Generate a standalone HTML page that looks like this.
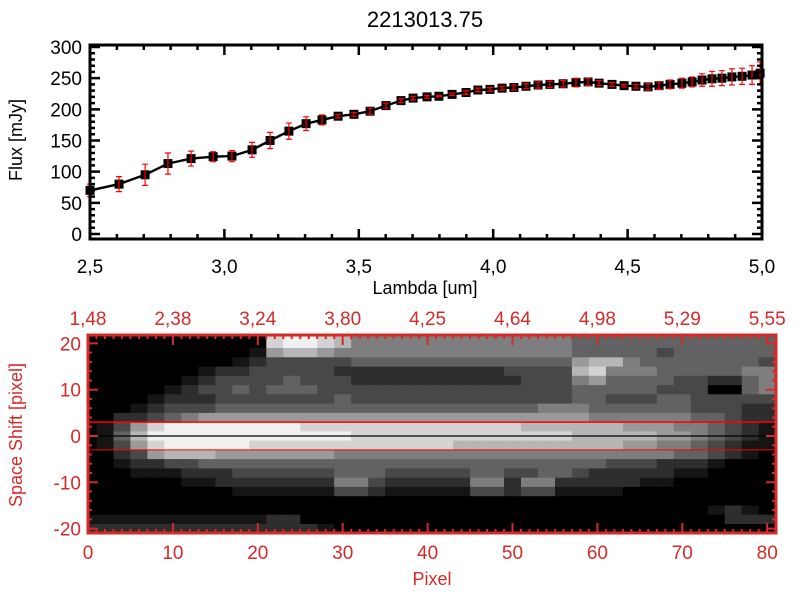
<!DOCTYPE html>
<html><head><meta charset="utf-8"><style>
body{margin:0;background:#fff}
svg{display:block}
text{font-family:"Liberation Sans",sans-serif}
</style></head><body>
<svg id="s" width="800" height="600" viewBox="0 0 800 600">
<g id="heat"></g>
<g id="topPlot"></g>
<g id="bot"></g>
</svg>
<script>
const lambdas=[2.500,2.608,2.705,2.790,2.876,2.958,3.028,3.103,3.170,3.240,3.304,3.363,3.423,3.482,3.542,3.601,3.657,3.702,3.754,3.798,3.847,3.899,3.943,3.988,4.033,4.077,4.122,4.167,4.211,4.260,4.308,4.353,4.394,4.442,4.487,4.531,4.576,4.617,4.658,4.702,4.740,4.777,4.814,4.851,4.888,4.926,4.963,4.993];
const fluxes=[70,80,95,113,121,124,125,135,150,165,177,183,189,192,197,206,214,218,220,221,224,227,231,232,234,235,237,239,240,241,243,244,242,240,238,237,236,238,240,242,244,247,249,250,252,253,255,258];
const errors=[10,12,17,17,12,8,9,12,13,13,11,8,3,3,5,4,3,3,2,1,2,3,3,3,3,4,4,5,5,5,7,6,4,3,2,3,5,6,7,8,8,10,12,12,13,13,15,18];
const xTickLabels=["2,5","3,0","3,5","4,0","4,5","5,0"];
const yTickLabels=["0","50","100","150","200","250","300"];
const topPixelLabels=["1,48","2,38","3,24","3,80","4,25","4,64","4,98","5,29","5,55"];
const pixelLabels=["0","10","20","30","40","50","60","70","80"];
const shiftLabels=["20","10","0","-10","-20"];
// heatmap rows: shift +20 .. -20 step 2; columns: pixel 0..80 step 2; values 0-9
const heatRows=[
"00000000000899875555555555555444444444444",
"00000000001677655555555555555444443444444",
"00000000012333334444444444444677544444443",
"00000001223333322222222223333785554444455",
"00000012333343332222222222333564444332245",
"00000123343444333333333333333444443330045",
"00001222333333343333333333333443334433333",
"00012333444444444444444444455544444433322",
"00223456666666666666666666666655555544322",
"01368999999998888888888888777777666554321",
"01479999999999998888888888888777776654321",
"01368999998888888888887777777777665543211",
"00236777666666655555555555555555555443210",
"00122334444444444444444444444443332221000",
"00011122233333344433333443344322222110000",
"00000011222222255322222552552222211000000",
"00000000011111133211111332331111000000000",
"00000000000000000000000000000000000000000",
"00000000000000000000000000000000000001210",
"11111111111220000000000000000000000000222",
"22222222222222100000000000000000000000000"];

const NS="http://www.w3.org/2000/svg";
function mk(p,tag,a,txt){const el=document.createElementNS(NS,tag);for(const k in a)el.setAttribute(k,a[k]);if(txt!==undefined)el.textContent=txt;p.appendChild(el);return el;}
const T={l:90,r:762,t:45,b:239};
const tx=v=>T.l+(v-2.5)/2.5*(T.r-T.l);
const ty=v=>234-v*(187/300);
const topG=document.getElementById('topPlot');
let e=mk(topG,'text',{x:425,y:27,'text-anchor':'middle','font-size':22,fill:'#000'},'2213013.75');

let d=lambdas.map((l,i)=>(i?'L':'M')+tx(l).toFixed(1)+','+ty(fluxes[i]).toFixed(1)).join('');
e=mk(topG,'path',{d:d,stroke:'#000','stroke-width':2.4,fill:'none'});

lambdas.forEach((l,i)=>{const x=tx(l),y=ty(fluxes[i]);
 const m=mk(topG,'rect',{x:x-4.5,y:y-4.5,width:9,height:9,fill:'#000'});
 
 
 const y1=ty(fluxes[i]+errors[i]),y2=ty(fluxes[i]-errors[i]);
 const g=mk(topG,'path',{d:`M${x},${y1}V${y2}M${x-3},${y1}H${x+3}M${x-3},${y2}H${x+3}`,stroke:'#f00','stroke-width':1.2,fill:'none'});
 
 
});
e=mk(topG,'rect',{x:T.l,y:T.t,width:T.r-T.l,height:T.b-T.t,fill:'none',stroke:'#000','stroke-width':3});

let tk='';
for(let v=2.5;v<=5.001;v+=0.1){const x=tx(v);const maj=Math.abs(v*2-Math.round(v*2))<1e-6;const L=maj?10:5;tk+=`M${x},${T.b}v${-L}M${x},${T.t}v${L}`;}
for(let v=0;v<=300;v+=10){const y=ty(v);const L=v%50==0?10:5;tk+=`M${T.l},${y}h${L}M${T.r},${y}h${-L}`;}
e=mk(topG,'path',{d:tk,stroke:'#000','stroke-width':2.5});

xTickLabels.forEach((s,i)=>{const t=mk(topG,'text',{x:tx(2.5+i*0.5),y:273,'text-anchor':'middle','font-size':19,fill:'#000'},s);
 
 });
yTickLabels.forEach((s,i)=>{const t=mk(topG,'text',{x:82,y:ty(i*50)+7,'text-anchor':'end','font-size':19,fill:'#000'},s);
 
 });
e=mk(topG,'text',{x:425,y:294,'text-anchor':'middle','font-size':18,fill:'#000'},'Lambda [um]');

e=mk(topG,'text',{x:0,y:0,transform:'translate(22,140) rotate(-90)','text-anchor':'middle','font-size':18,fill:'#000'},'Flux [mJy]');


const B={l:88,r:776,t:335,b:533};
const px=p=>88+p*8.49;
const sy=s=>436-s*4.63;
const heat=document.getElementById('heat');
heatRows.forEach((row,r)=>{const s=20-2*r;
 for(let c=0;c<41;c++){const v=+(row[c]||0);const g=Math.round(Math.pow(v/9,1.1)*240);
  let x0=Math.max(B.l,px(2*c-1)),x1=Math.min(B.r,px(2*c+1));
  let y0=Math.max(B.t,sy(s+1)),y1=Math.min(B.b,sy(s-1));
  if(r==0)y0=B.t;
  if(r==heatRows.length-1)y1=B.b;
  if(c==0)x0=B.l;
  if(c==40)x1=B.r;
  const cell=mk(heat,'rect',{x:x0.toFixed(1),y:y0.toFixed(1),width:(x1-x0+0.6).toFixed(1),height:(y1-y0+0.6).toFixed(1),fill:`rgb(${g},${g},${g})`});
  
  
 }});
const bot=document.getElementById('bot');
const RED='#d42a2a';
e=mk(bot,'line',{x1:B.l,x2:B.r,y1:sy(3),y2:sy(3),stroke:'#f00','stroke-width':1.5});

e=mk(bot,'line',{x1:B.l,x2:B.r,y1:sy(-3),y2:sy(-3),stroke:'#f00','stroke-width':1});

e=mk(bot,'line',{x1:B.l,x2:B.r,y1:sy(0),y2:sy(0),stroke:'#000','stroke-width':1.2});

e=mk(bot,'rect',{x:B.l,y:B.t,width:B.r-B.l,height:B.b-B.t,fill:'none',stroke:RED,'stroke-width':3});

tk='';
for(let p=0;p<=80;p++){const x=px(p);const L=p%10==0?10:4;tk+=`M${x},${B.b}v${-L}M${x},${B.t}v${L}`;}
for(let s=-20;s<=20;s+=2){const y=sy(s);const L=s%10==0?10:4;tk+=`M${B.l},${y}h${L}M${B.r},${y}h${-L}`;}
e=mk(bot,'path',{d:tk,stroke:RED,'stroke-width':2});

topPixelLabels.forEach((s,i)=>{const t=mk(bot,'text',{x:px(i*10),y:325,'text-anchor':'middle','font-size':19,fill:RED},s);
 
 });
pixelLabels.forEach((s,i)=>{const t=mk(bot,'text',{x:px(i*10),y:559,'text-anchor':'middle','font-size':19,fill:RED},s);
 
 });
shiftLabels.forEach((s,i)=>{const t=mk(bot,'text',{x:81,y:sy(20-i*10)+7,'text-anchor':'end','font-size':19,fill:RED},s);
 
 });
e=mk(bot,'text',{x:432,y:585,'text-anchor':'middle','font-size':18,fill:RED},'Pixel');

e=mk(bot,'text',{x:0,y:0,transform:'translate(22,435) rotate(-90)','text-anchor':'middle','font-size':18,fill:RED},'Space Shift [pixel]');

</script>
</body></html>
